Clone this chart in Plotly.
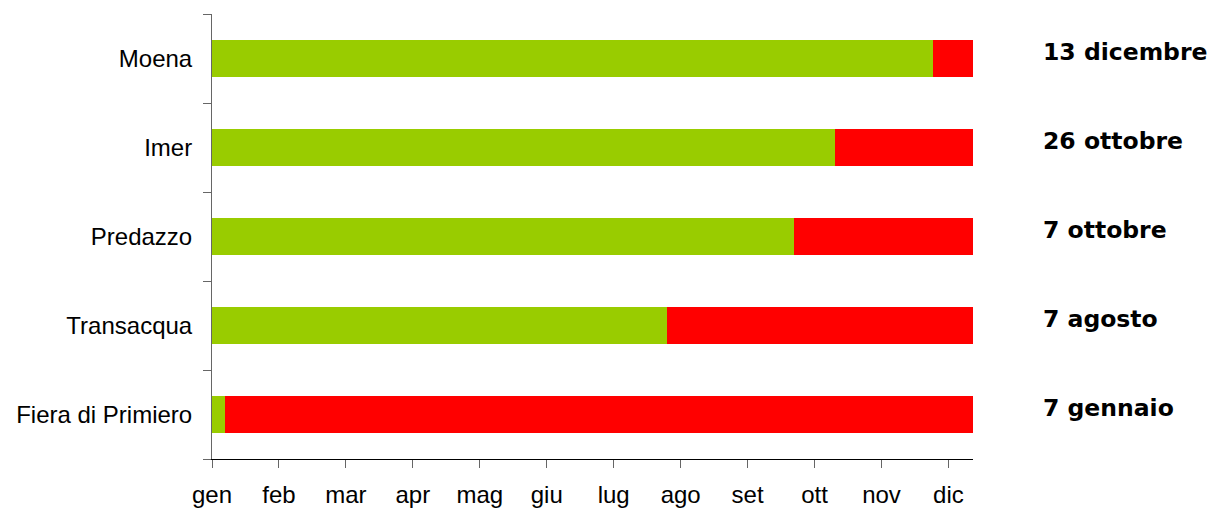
import plotly.graph_objects as go

# Data (bottom to top)
stations = ["Fiera di Primiero", "Transacqua", "Predazzo", "Imer", "Moena"]
green_days = [6, 204, 261, 279, 323]
year_span = 341
red_days = [year_span - g for g in green_days]
date_labels = ["7 gennaio", "7 agosto", "7 ottobre", "26 ottobre", "13 dicembre"]
month_labels = ["gen", "feb", "mar", "apr", "mag", "giu", "lug", "ago", "set", "ott", "nov", "dic"]
month_ticks = [30 * i for i in range(len(month_labels))]

fig = go.Figure()
fig.add_trace(go.Bar(y=stations, x=green_days, orientation="h",
                     marker=dict(color="#99CC00", line=dict(width=0)), hoverinfo="x+y"))
fig.add_trace(go.Bar(y=stations, x=red_days, orientation="h",
                     marker=dict(color="#FF0000", line=dict(width=0)), hoverinfo="x+y"))

for s, lab in zip(stations, date_labels):
    fig.add_annotation(x=1, xref="paper", xshift=68, xanchor="left",
                       y=s, yref="y", yshift=7, yanchor="middle",
                       text=lab, showarrow=False,
                       font=dict(family="DejaVu Sans", size=23.5, color="black", weight="bold"))

fig.update_layout(
    width=1210, height=508,
    margin=dict(l=212, r=237, t=14, b=49),
    barmode="stack", bargap=0.58,
    showlegend=False,
    plot_bgcolor="white", paper_bgcolor="white",
    xaxis=dict(range=[0, year_span], tickmode="array", tickvals=month_ticks, ticktext=month_labels,
               showgrid=False, zeroline=False, showline=True, linecolor="black", linewidth=1,
               ticks="outside", ticklen=8, tickcolor="#666", tickwidth=1,
               ticklabelstandoff=6, automargin=False,
               tickfont=dict(family="Liberation Sans", size=24, color="black")),
    yaxis=dict(type="category", categoryorder="array", categoryarray=stations,
               range=[-0.5, 4.5], tickson="boundaries",
               showgrid=False, zeroline=False, showline=True, linecolor="#666", linewidth=1,
               ticks="outside", ticklen=8, tickcolor="#666", tickwidth=1,
               ticklabelstandoff=14, automargin=False,
               tickfont=dict(family="Liberation Sans", size=24, color="black")),
)

# remove the browser's default 8px body margin so the figure fills the window exactly
fig.write_html("out.html", config={"displayModeBar": False},
               post_script="document.body.style.margin='0';document.body.style.overflow='hidden';")
